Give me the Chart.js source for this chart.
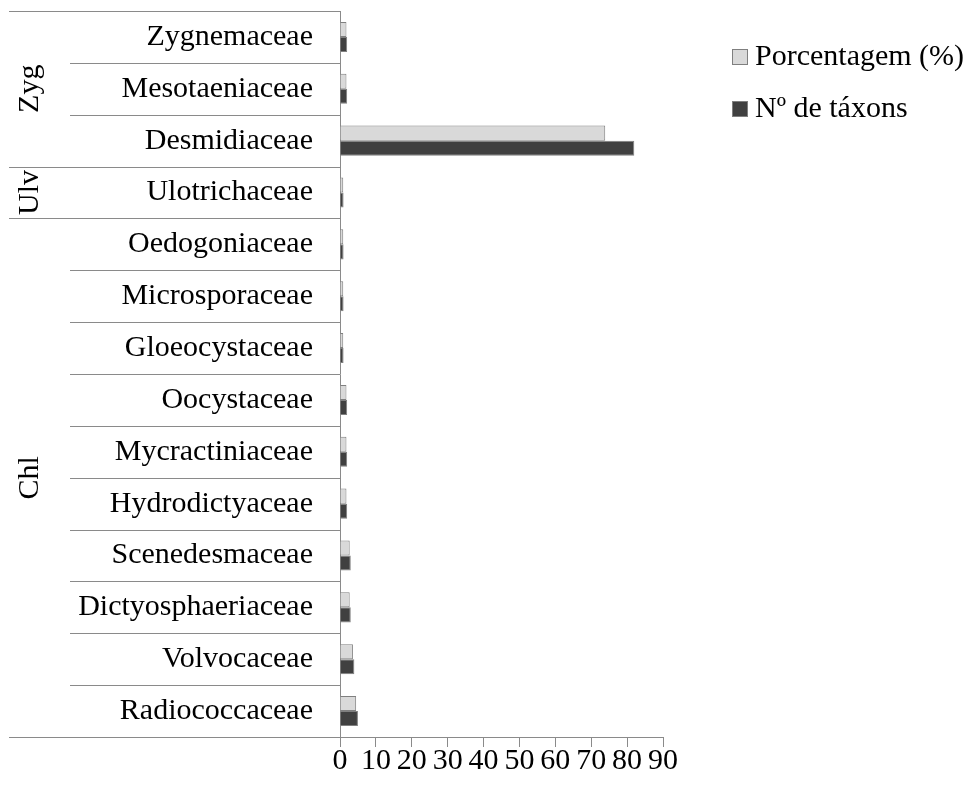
<!DOCTYPE html>
<html>
<head>
<meta charset="utf-8">
<script src="https://cdn.jsdelivr.net/npm/chart.js@4/dist/chart.umd.min.js"></script>
<style>
  body { margin: 0; background: #fff; }
</style>
</head>
<body>
<canvas id="familiasChart" width="971" height="789"></canvas>
<script>
// famílias, de cima para baixo
const familias = [
    'Zygnemaceae', 'Mesotaeniaceae', 'Desmidiaceae', 'Ulotrichaceae',
    'Oedogoniaceae', 'Microsporaceae', 'Gloeocystaceae', 'Oocystaceae',
    'Mycractiniaceae', 'Hydrodictyaceae', 'Scenedesmaceae', 'Dictyosphaeriaceae',
    'Volvocaceae', 'Radiococcaceae'
];
const porcentagem = [1.8, 1.8, 73.9, 0.9, 0.9, 0.9, 0.9, 1.8, 1.8, 1.8, 2.7, 2.7, 3.6, 4.5];
const numTaxons = [2, 2, 82, 1, 1, 1, 1, 2, 2, 2, 3, 3, 4, 5];
const xTicks = [0, 10, 20, 30, 40, 50, 60, 70, 80, 90];

// classes: nome, primeira e última família
const grupos = [
    { nome: 'Zyg', inicio: 0, fim: 2 },
    { nome: 'Ulv', inicio: 3, fim: 3 },
    { nome: 'Chl', inicio: 4, fim: 13 }
];

const fonte = '"Liberation Serif", "Times New Roman", serif';
const corLinha = '#8a8a8a';

// linhas da tabela à esquerda e nomes das classes
const tabelaGrupos = {
    id: 'tabelaGrupos',
    afterDraw(chart) {
        const ctx = chart.ctx;
        const y = chart.scales.y;
        const n = familias.length;
        const passo = (y.bottom - y.top) / n;
        const inicios = grupos.map(g => g.inicio).concat([n]);
        ctx.save();
        ctx.strokeStyle = corLinha;
        ctx.lineWidth = 1;
        for (let i = 0; i <= n; i++) {
            const py = Math.round(y.top + i * passo) + 0.5;
            const x0 = inicios.includes(i) ? 9 : 70;
            ctx.beginPath();
            ctx.moveTo(x0, py);
            ctx.lineTo(y.right, py);
            ctx.stroke();
        }
        ctx.fillStyle = '#000';
        ctx.font = '30px ' + fonte;
        ctx.textAlign = 'center';
        ctx.textBaseline = 'middle';
        grupos.forEach(g => {
            const cy = y.top + ((g.inicio + g.fim + 1) / 2) * passo;
            ctx.save();
            ctx.translate(30, cy);
            ctx.rotate(-Math.PI / 2);
            ctx.fillText(g.nome, 0, 0);
            ctx.restore();
        });
        ctx.restore();
    }
};

// legenda
const legendaLateral = {
    id: 'legendaLateral',
    afterDraw(chart) {
        const ctx = chart.ctx;
        ctx.save();
        ctx.font = '30px ' + fonte;
        ctx.textBaseline = 'alphabetic';
        ctx.textAlign = 'left';
        chart.data.datasets.forEach((ds, i) => {
            const base = 65 + i * 52;
            ctx.fillStyle = ds.backgroundColor;
            ctx.fillRect(732, base - 16, 16, 16);
            ctx.strokeStyle = ds.borderColor;
            ctx.lineWidth = 1;
            ctx.strokeRect(732.5, base - 15.5, 15, 15);
            ctx.fillStyle = '#000';
            ctx.fillText(ds.label, 755, base);
        });
        ctx.restore();
    }
};

const ctx = document.getElementById('familiasChart').getContext('2d');
new Chart(ctx, {
    type: 'bar',
    data: {
        labels: familias,
        datasets: [{
            label: 'Porcentagem (%)',
            data: porcentagem,
            backgroundColor: '#d9d9d9',
            borderColor: '#7f7f7f',
            borderWidth: 1
        }, {
            label: 'Nº de táxons',
            data: numTaxons,
            backgroundColor: '#404040',
            borderColor: '#7f7f7f',
            borderWidth: 1
        }]
    },
    options: {
        indexAxis: 'y',
        responsive: false,
        animation: false,
        layout: {
            padding: { top: 11, right: 308, left: 0, bottom: 0 }
        },
        datasets: {
            bar: { categoryPercentage: 0.58, barPercentage: 1.0 }
        },
        scales: {
            x: {
                min: 0,
                max: 90,
                afterBuildTicks: scale => {
                    scale.ticks = xTicks.map(v => ({ value: v }));
                },
                afterFit: scale => { scale.height = 52; },
                grid: {
                    display: true,
                    drawOnChartArea: false,
                    drawTicks: true,
                    tickLength: 10,
                    color: corLinha
                },
                border: { display: true, color: corLinha },
                ticks: {
                    color: '#000',
                    padding: -4,
                    maxRotation: 0,
                    autoSkip: false,
                    font: { family: fonte, size: 30 }
                }
            },
            y: {
                afterFit: scale => {
                    scale.width = 340;
                    scale.paddingTop = 0;
                    scale.paddingBottom = 0;
                },
                grid: { display: false, drawTicks: false },
                border: { display: true, color: corLinha },
                ticks: {
                    color: '#000',
                    padding: 27,
                    autoSkip: false,
                    font: { family: fonte, size: 30 }
                }
            }
        },
        plugins: {
            legend: { display: false },
            tooltip: { enabled: false }
        }
    },
    plugins: [tabelaGrupos, legendaLateral]
});
</script>
</body>
</html>
